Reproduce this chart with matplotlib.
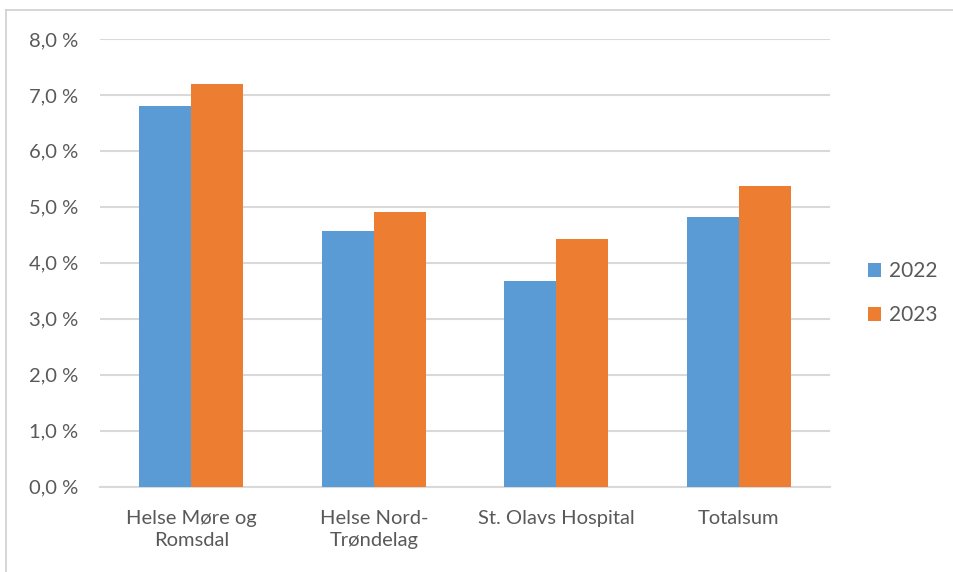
import numpy as np
import matplotlib
matplotlib.use("Agg")
import matplotlib.pyplot as plt
from matplotlib.lines import Line2D

plt.rcParams['font.family'] = ['Lato', 'DejaVu Sans']

categories = ["Helse Møre og\nRomsdal", "Helse Nord-\nTrøndelag", "St. Olavs Hospital", "Totalsum"]
years = ["2022", "2023"]
values_2022 = [6.80, 4.57, 3.68, 4.82]
values_2023 = [7.20, 4.91, 4.43, 5.38]
y_ticks = [0, 1, 2, 3, 4, 5, 6, 7, 8]

blue = "#5b9bd5"
orange = "#ed7d31"
grey_text = "#595959"

fig = plt.figure(figsize=(9.54, 5.72), dpi=100)
ax = fig.add_axes([0.105, 0.149, 0.765, 0.783])

x = np.arange(len(categories))
w = 0.285
ax.bar(x - w / 2, values_2022, w, color=blue, label=years[0], zorder=3)
ax.bar(x + w / 2, values_2023, w, color=orange, label=years[1], zorder=3)

ax.set_xlim(-0.5, len(categories) - 0.5)
ax.set_ylim(0, 8)
ax.set_yticks(y_ticks)
ax.set_yticklabels([f"{t:.1f} %".replace(".", ",") for t in y_ticks])
ax.set_xticks(x)
ax.set_xticklabels(categories, linespacing=1.3)
ax.yaxis.grid(True, color="#d9d9d9", linewidth=1.5, zorder=0)
ax.tick_params(axis="both", length=0, labelsize=14.5, colors=grey_text)
ax.tick_params(axis="y", pad=16)
ax.tick_params(axis="x", pad=17)
for s in ["top", "right", "left"]:
    ax.spines[s].set_visible(False)
ax.spines["bottom"].set_color("#d9d9d9")
ax.spines["bottom"].set_linewidth(1.5)

leg = fig.legend(loc="center left", bbox_to_anchor=(0.89, 0.487), frameon=False,
                 fontsize=15, handlelength=0.65, handleheight=0.65, handletextpad=0.35,
                 labelspacing=1.15, labelcolor=grey_text)

# outer chart frame
fig.add_artist(Line2D([0.006, 0.006], [0.0, 0.983], color="#d0d0d0", linewidth=1.2))
fig.add_artist(Line2D([0.006, 1.0], [0.983, 0.983], color="#d0d0d0", linewidth=1.2))

fig.savefig("out.png", dpi=100)
